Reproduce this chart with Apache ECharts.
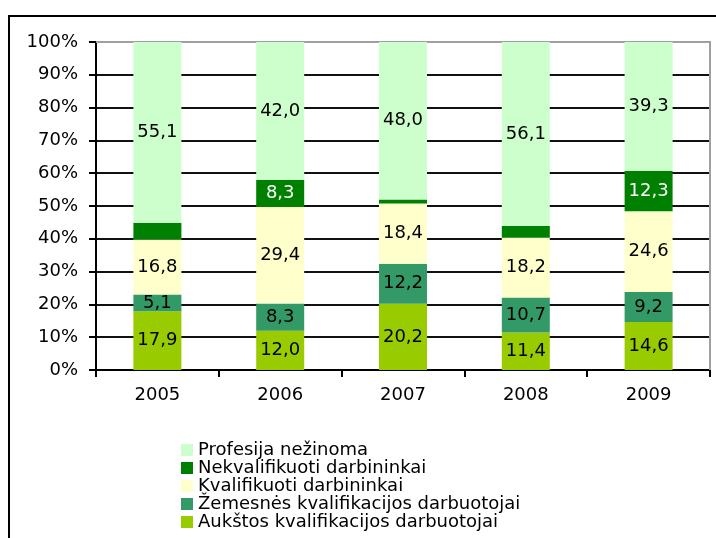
<!DOCTYPE html>
<html>
<head>
<meta charset="utf-8">
<script src="https://cdn.jsdelivr.net/npm/echarts@6/dist/echarts.min.js"></script>
<style>
  html, body { margin: 0; padding: 0; background: #fff; }
  #chart { width: 716px; height: 538px; }
</style>
</head>
<body>
<div id="chart"></div>
<script>
  // duomenys (%)
  var years = ['2005', '2006', '2007', '2008', '2009'];
  var aukstos = [17.9, 12.0, 20.2, 11.4, 14.6];
  var zemesnes = [5.1, 8.3, 12.2, 10.7, 9.2];
  var kvalifikuoti = [16.8, 29.4, 18.4, 18.2, 24.6];
  var nekvalifikuoti = [5.1, 8.3, 1.2, 3.6, 12.3];
  var nezinoma = [55.1, 42.0, 48.0, 56.1, 39.3];

  var names = [
    'Profesija nežinoma',
    'Nekvalifikuoti darbininkai',
    'Kvalifikuoti darbininkai',
    'Žemesnės kvalifikacijos darbuotojai',
    'Aukštos kvalifikacijos darbuotojai'
  ];

  var font = 'DejaVu Sans';

  function fmt(v) {
    return v.toFixed(1).replace('.', ',');
  }

  function bar(name, data, color, textColor, minLabel) {
    return {
      name: name,
      type: 'bar',
      stack: 'viso',
      barWidth: 48,
      z: 3,
      itemStyle: { color: color },
      label: {
        show: true,
        position: 'inside',
        fontFamily: font,
        fontSize: 18,
        color: textColor,
        formatter: function (p) {
          return p.value >= minLabel ? fmt(p.value) : '';
        }
      },
      data: data
    };
  }

  var chart = echarts.init(document.getElementById('chart'));

  var option = {
    animation: false,
    backgroundColor: '#fff',
    graphic: [{
      type: 'rect',
      shape: { x: 9, y: 16, width: 800, height: 600 },
      style: { fill: 'none', stroke: '#000', lineWidth: 2 },
      silent: true
    }, {
      // pilka brėžinio ploto riba (viršus ir dešinė), po stulpeliais
      type: 'polyline',
      z: 1,
      shape: { points: [[96, 42], [710, 42], [710, 370]] },
      style: { stroke: '#a0a0a0', lineWidth: 2, fill: 'none' },
      silent: true
    }],
    grid: { left: 96, right: 6, top: 42, bottom: 168 },
    legend: {
      orient: 'vertical',
      left: 176,
      top: 436,
      itemWidth: 12,
      itemHeight: 12,
      itemGap: 0,
      icon: 'rect',
      textStyle: { fontFamily: font, fontSize: 18, color: '#000', lineHeight: 18 },
      data: names
    },
    xAxis: {
      type: 'category',
      data: years,
      axisLine: { lineStyle: { color: '#000', width: 2 } },
      axisTick: { show: true, length: 7, lineStyle: { color: '#000', width: 2 } },
      axisLabel: { fontFamily: font, fontSize: 18, color: '#000', margin: 16 }
    },
    yAxis: {
      type: 'value',
      min: 0,
      max: 100,
      interval: 10,
      axisLine: { show: true, lineStyle: { color: '#000', width: 2 } },
      axisTick: { show: true, length: 7, lineStyle: { color: '#000', width: 2 } },
      axisLabel: {
        fontFamily: font, fontSize: 18, color: '#000', margin: 18,
        formatter: '{value}%'
      },
      splitLine: { show: true, lineStyle: { color: '#111', width: 2 } }
    },
    series: [
      bar(names[4], aukstos, '#99cc00', '#000', 0),
      bar(names[3], zemesnes, '#339966', '#000', 0),
      bar(names[2], kvalifikuoti, '#ffffcc', '#000', 0),
      bar(names[1], nekvalifikuoti, '#008000', '#fff', 6),
      bar(names[0], nezinoma, '#ccffcc', '#000', 0)
    ]
  };

  chart.setOption(option);
</script>
</body>
</html>
